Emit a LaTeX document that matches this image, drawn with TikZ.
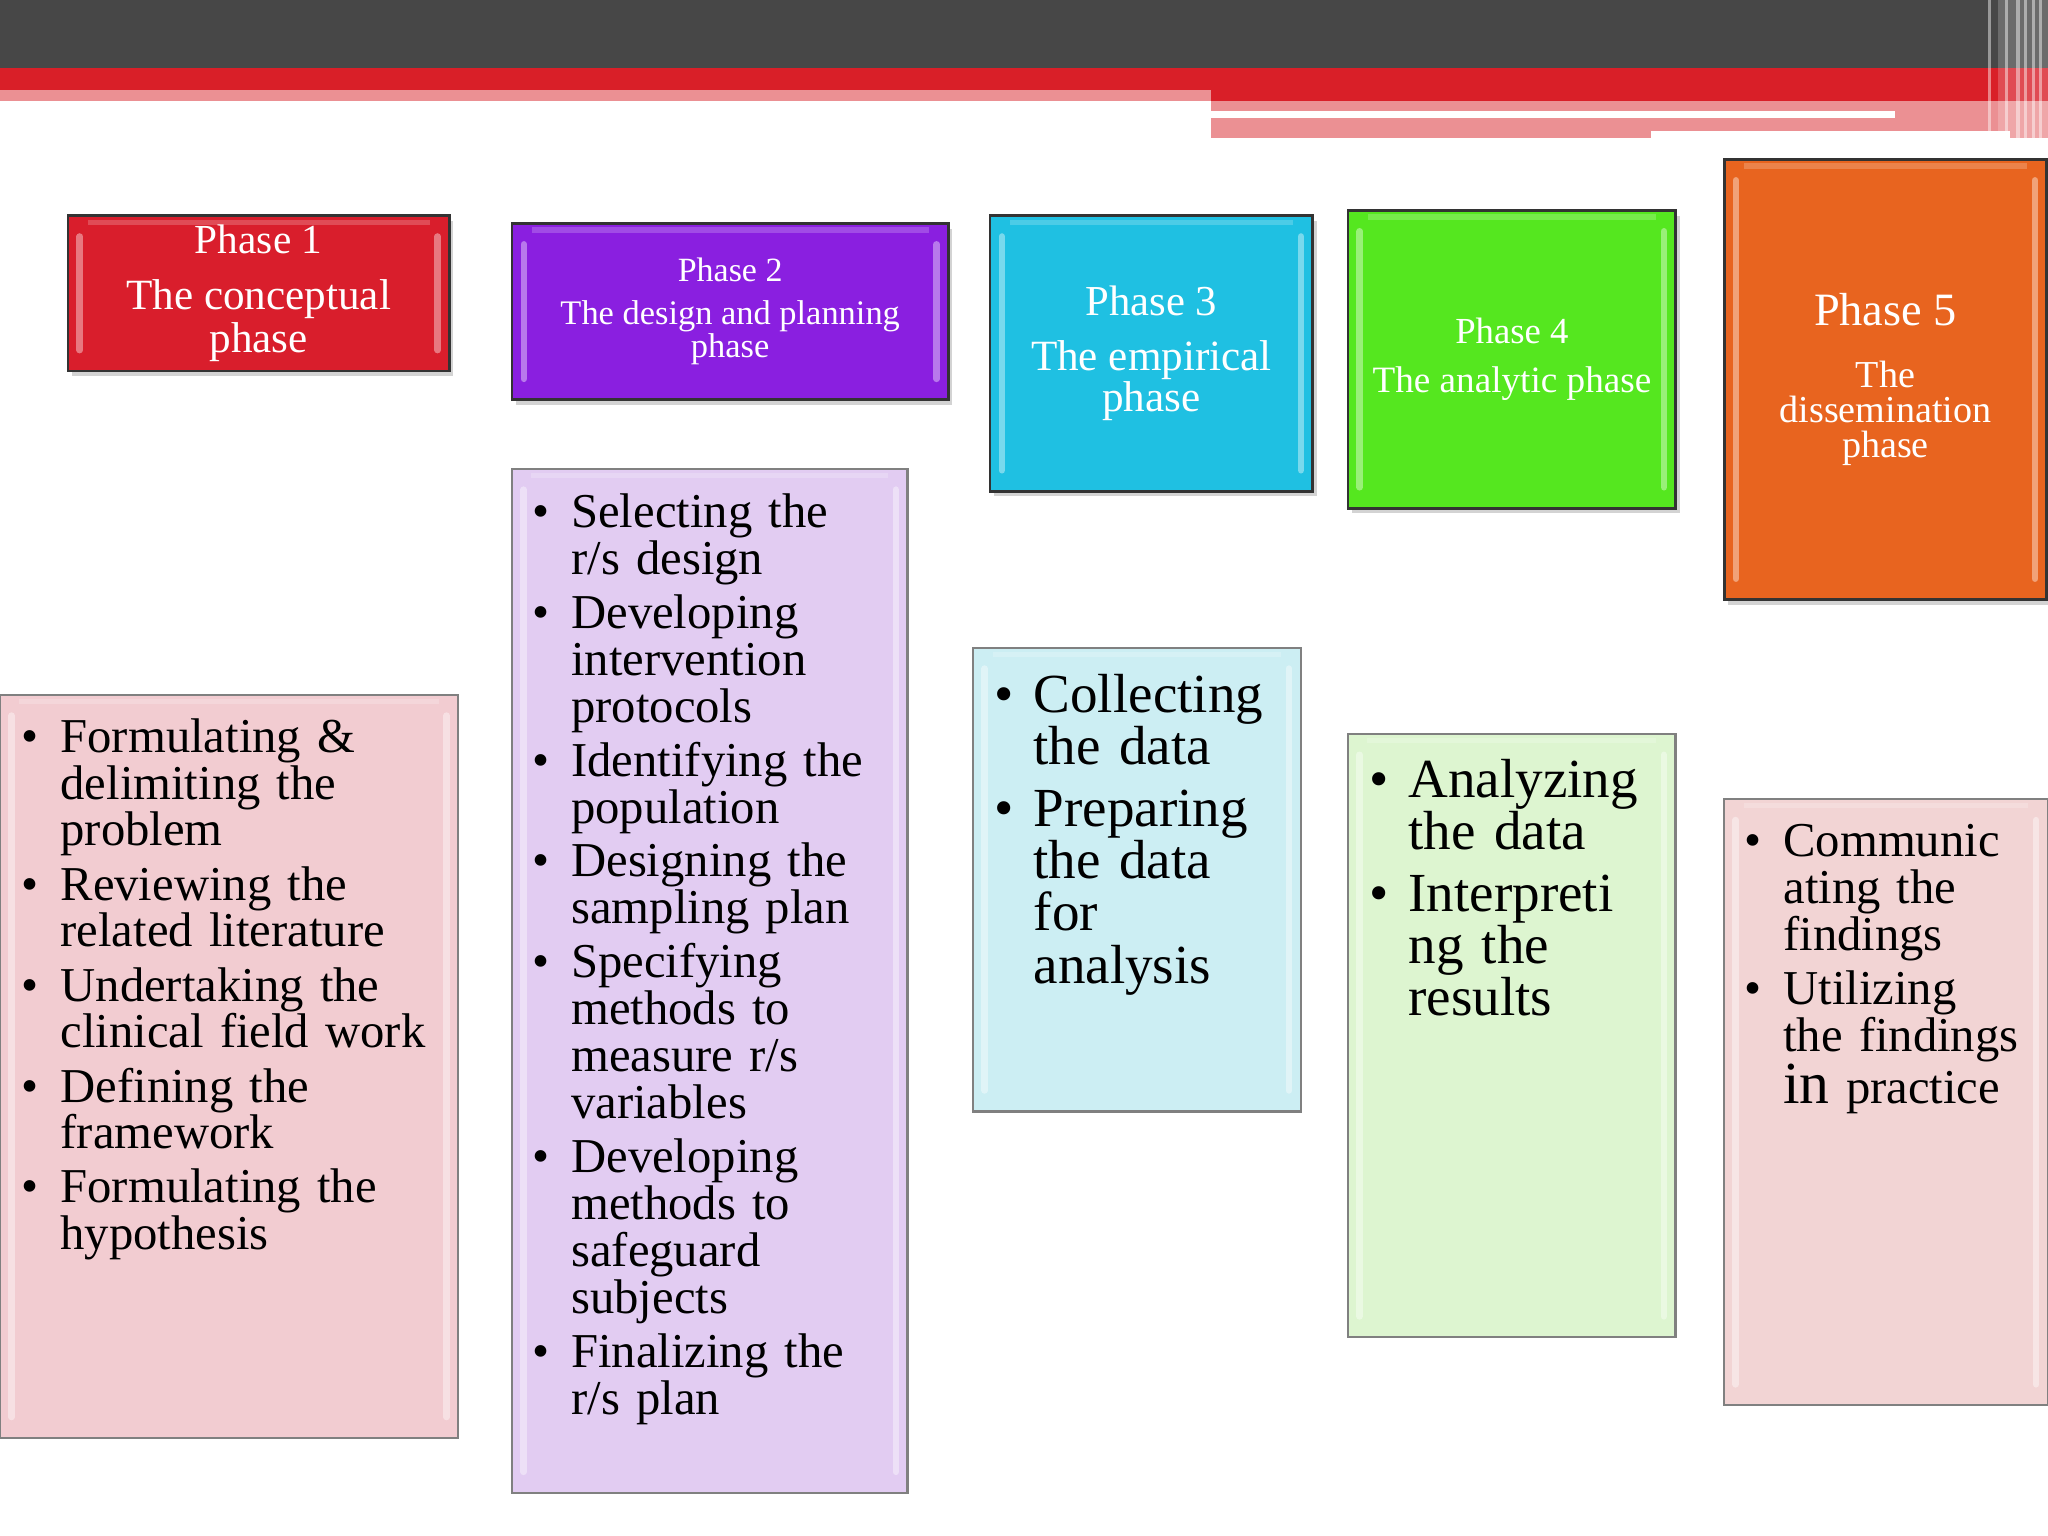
\documentclass[tikz,border=0pt]{standalone}
\usepackage{fontspec}
\setmainfont{Liberation Serif}
\usepackage{xcolor}
\usetikzlibrary{positioning, shadows}

\definecolor{bargrey}{HTML}{474747}
\definecolor{barred}{HTML}{D91F28}
\definecolor{barpink}{HTML}{EB9093}
\definecolor{phaseone}{HTML}{D91E2C}
\definecolor{phasetwo}{HTML}{8A1FE0}
\definecolor{phasethree}{HTML}{1FC0E2}
\definecolor{phasefour}{HTML}{55E71F}
\definecolor{phasefive}{HTML}{E8641F}
\definecolor{listone}{HTML}{F2CCD1}
\definecolor{listtwo}{HTML}{E2CCF2}
\definecolor{listthree}{HTML}{CCEEF3}
\definecolor{listfour}{HTML}{DDF5D0}
\definecolor{listfive}{HTML}{F2D4D4}

% one bullet point, lines broken by hand with \newline
\newlength{\itemgap}
\setlength{\itemgap}{1.7pt}
\newcommand{\bitem}[1]{\par\hangindent=3mm\hangafter=1\noindent\makebox[3mm][l]{\textbullet}#1\par\vspace{\itemgap}}

\begin{document}
\begin{tikzpicture}[x=0.1mm, y=-0.1mm, thick]
    % Styles
    \tikzstyle{bevel} = [path picture={
        \draw[white, opacity=0.4, line width=0.5mm, line cap=round]
            ([xshift=0.9mm, yshift=-1.6mm]path picture bounding box.north west) -- ([xshift=0.9mm, yshift=1.6mm]path picture bounding box.south west)
            ([xshift=-0.9mm, yshift=-1.6mm]path picture bounding box.north east) -- ([xshift=-0.9mm, yshift=1.6mm]path picture bounding box.south east);
        \draw[white, opacity=0.2, line width=0.4mm]
            ([xshift=1.5mm, yshift=-0.5mm]path picture bounding box.north west) -- ([xshift=-1.5mm, yshift=-0.5mm]path picture bounding box.north east);}]
    \tikzstyle{phase} = [rectangle, draw=black!80, line width=0.6pt, text=white, align=center, anchor=north west, inner sep=0, bevel,
        drop shadow={shadow xshift=0.3mm, shadow yshift=-0.4mm, opacity=0.35}]
    \tikzstyle{listbox} = [rectangle, draw=black!50, line width=0.5pt, anchor=north west, inner sep=0, bevel]
    \tikzstyle{listtext} = [inner sep=0, text width=43mm, font=\fontsize{10.6}{10.15}\selectfont]
    \tikzstyle{biglist} = [listtext, font=\fontsize{12}{11.4}\selectfont]

    \useasboundingbox (0,0) rectangle (1568,1176);

    % Top bar
    \fill[bargrey] (0,0) rectangle (1568,52);
    \fill[barred] (0,52) rectangle (1568,69);
    \fill[barred] (927,69) rectangle (1568,77);
    \fill[barpink] (0,69) rectangle (927,77);
    \fill[barpink] (927,77) rectangle (1568,85);
    \fill[barpink] (927,90) rectangle (1264,106);
    \fill[barpink] (1264,90) rectangle (1451,100);
    \fill[barpink] (1451,85) rectangle (1568,100);
    \fill[barpink] (1539,100) rectangle (1568,106);
    \fill[white, opacity=0.2] (1530,0) rectangle (1568,106);
    \foreach \x in {1523, 1536, 1545, 1551, 1557, 1562}
        \draw[white, opacity=0.45, line width=0.25mm] (\x,0) -- (\x,106);

    % Phase headers
    \node[phase, fill=phaseone, minimum width=29.2mm, minimum height=11.9mm, font=\fontsize{9.4}{8.5}\selectfont] (ph1) at (51,164)
        {{\fontsize{9}{9}\selectfont Phase 1}\\[3.7pt]The conceptual\\phase};
    \node[phase, fill=phasetwo, minimum width=33.4mm, minimum height=13.5mm, font=\fontsize{7.5}{7.1}\selectfont] (ph2) at (391,170)
        {{\fontsize{7.4}{7.4}\selectfont Phase 2}\\[2.3pt]The design and planning\\phase};
    \node[phase, fill=phasethree, minimum width=24.7mm, minimum height=21.1mm, font=\fontsize{9.4}{9.1}\selectfont] (ph3) at (757,164)
        {{\fontsize{9.3}{9.3}\selectfont Phase 3}\\[2.8pt]The empirical\\phase};
    \node[phase, fill=phasefour, minimum width=25.1mm, minimum height=22.8mm, font=\fontsize{8.1}{9}\selectfont] (ph4) at (1031,160)
        {{\fontsize{8}{8}\selectfont Phase 4}\\[1.5pt]The analytic phase};
    \node[phase, fill=phasefive, minimum width=24.7mm, minimum height=33.7mm, font=\fontsize{8.3}{7.7}\selectfont] (ph5) at (1319,121)
        {{\fontsize{10.1}{10.1}\selectfont Phase 5}\\[5.8pt]The\\dissemination\\phase};

    % List boxes
    \node[listbox, fill=listone, minimum width=35.1mm, minimum height=56.9mm] (b1) at (-1,531) {};
    \node[listbox, fill=listtwo, minimum width=30.3mm, minimum height=78.4mm] (b2) at (391,358) {};
    \node[listbox, fill=listthree, minimum width=25.1mm, minimum height=35.5mm] (b3) at (744,495) {};
    \node[listbox, fill=listfour, minimum width=25.1mm, minimum height=46.2mm] (b4) at (1031,561) {};
    \node[listbox, fill=listfive, minimum width=24.8mm, minimum height=46.4mm] (b5) at (1319,611) {};

    % List texts
    \node[listtext, below right=0.8mm and 1.6mm of b1.north west] (t1) {%
        \bitem{Formulating \&\newline delimiting the\newline problem}
        \bitem{Reviewing the\newline related literature}
        \bitem{Undertaking the\newline clinical field work}
        \bitem{Defining the\newline framework}
        \bitem{Formulating the\newline hypothesis}};
    \node[listtext, below right=0.85mm and 1.5mm of b2.north west, font=\fontsize{10.6}{10.25}\selectfont] (t2) {%
        \setlength{\itemgap}{1.45pt}%
        \bitem{Selecting the\newline r/s design}
        \bitem{Developing\newline intervention\newline protocols}
        \bitem{Identifying the\newline population}
        \bitem{Designing the\newline sampling plan}
        \bitem{Specifying\newline methods to\newline measure r/s\newline variables}
        \bitem{Developing\newline methods to\newline safeguard\newline subjects}
        \bitem{Finalizing the\newline r/s plan}};
    \node[biglist, below right=0.9mm and 1.6mm of b3.north west] (t3) {%
        \setlength{\itemgap}{2pt}%
        \bitem{Collecting\newline the data}
        \bitem{Preparing\newline the data\newline for\newline analysis}};
    \node[biglist, below right=0.8mm and 1.6mm of b4.north west] (t4) {%
        \setlength{\itemgap}{2pt}%
        \bitem{Analyzing\newline the data}
        \bitem{Interpreti\newline ng the\newline results}};
    \node[listtext, below right=0.8mm and 1.5mm of b5.north west] (t5) {%
        \lineskip=0.6pt%
        \bitem{Communic\newline ating the\newline findings}
        \bitem{Utilizing\newline the findings\newline {\fontsize{13}{10}\selectfont in} practice}};

\end{tikzpicture}
\end{document}
